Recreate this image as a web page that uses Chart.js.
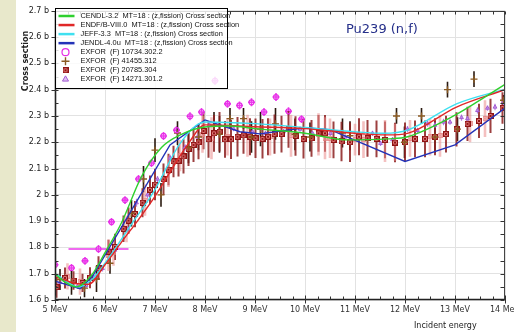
<!DOCTYPE html>
<html>
<head>
<meta charset="utf-8">
<title>Pu239 (n,f) cross section</title>
<style>
    html, body { margin: 0; padding: 0; overflow: hidden; background: #fff; }
    /* pale band on the left edge of the panel */
    .side-band { position: absolute; left: 0; top: 0; width: 16px; height: 332px; background: #e8e8cb; }
    .chart-holder { position: absolute; left: 0; top: 0; width: 540px; height: 332px; }
</style>
<script src="https://cdn.jsdelivr.net/npm/chart.js"></script>
</head>
<body>
<div class="side-band"></div>
<div class="chart-holder"><canvas id="xsChart"></canvas></div>

<script>
// Evaluated libraries: energy knots (MeV) and cross section (b)
const cendlE  = [5.0, 5.2, 5.43, 5.73, 6.0, 6.33, 6.73, 7.13, 7.53, 8.0, 8.5, 9.0, 10.0, 10.85, 11.65, 12.05, 13.0, 13.5, 14.0];
const cendlXs = [1.700, 1.668, 1.650, 1.694, 1.780, 1.894, 2.069, 2.180, 2.230, 2.258, 2.262, 2.252, 2.234, 2.209, 2.213, 2.221, 2.303, 2.360, 2.420];

const endfE  = [5.0, 5.2, 5.4, 5.67, 6.0, 6.33, 6.67, 7.0, 7.33, 7.67, 8.0, 9.0, 10.0, 11.0, 11.65, 12.05, 13.03, 14.0];
const endfXs = [1.688, 1.676, 1.663, 1.660, 1.734, 1.820, 1.906, 1.994, 2.096, 2.196, 2.266, 2.259, 2.252, 2.234, 2.228, 2.234, 2.334, 2.400];

const jeffE  = [5.0, 5.47, 5.75, 6.0, 6.5, 7.0, 7.5, 8.0, 9.0, 10.0, 10.98, 11.58, 12.05, 13.03, 14.0];
const jeffXs = [1.700, 1.650, 1.680, 1.740, 1.880, 2.020, 2.195, 2.277, 2.271, 2.256, 2.240, 2.234, 2.246, 2.346, 2.402];

const jendlE  = [5.0, 5.5, 5.75, 7.3, 8.0, 8.7, 9.1, 10.0, 10.5, 12.0, 13.0, 14.0];
const jendlXs = [1.672, 1.643, 1.690, 2.190, 2.285, 2.240, 2.232, 2.255, 2.248, 2.127, 2.190, 2.330];

// EXFOR 10734.302.2
const exp1E   = [5.0, 5.33, 5.6, 5.87, 6.13, 6.4, 6.67, 6.93, 7.17, 7.43, 7.7, 7.93, 8.2, 8.45, 8.69, 8.93, 9.18, 9.42, 9.67, 9.93];
const exp1Xs  = [1.734, 1.722, 1.749, 1.794, 1.897, 1.980, 2.060, 2.121, 2.224, 2.246, 2.299, 2.315, 2.434, 2.346, 2.340, 2.352, 2.315, 2.372, 2.318, 2.288];
const exp1dE  = [0.07, 0.07, 0.07, 0.60, 0.07, 0.07, 0.07, 0.07, 0.07, 0.07, 0.07, 0.07, 0.07, 0.07, 0.07, 0.07, 0.07, 0.07, 0.07, 0.07];
const exp1dXs = [0.015, 0.015, 0.015, 0.015, 0.015, 0.015, 0.015, 0.015, 0.015, 0.015, 0.015, 0.015, 0.015, 0.015, 0.015, 0.015, 0.015, 0.015, 0.015, 0.015];

// EXFOR 41455.312
const exp2E   = [5.1, 5.33, 5.59, 5.83, 6.1, 6.53, 6.77, 7.0, 7.12, 7.45, 7.67, 7.87, 8.18, 8.29, 8.5, 8.77, 8.93, 9.11, 9.41, 9.8, 10.1, 10.75, 10.9, 11.83, 11.99, 12.33, 12.6, 12.85, 13.05, 13.38, 13.97];
const exp2Xs  = [1.678, 1.665, 1.645, 1.680, 1.740, 1.930, 2.060, 2.170, 2.000, 2.235, 2.180, 2.220, 2.265, 2.230, 2.290, 2.290, 2.220, 2.250, 2.270, 2.230, 2.220, 2.235, 2.225, 2.300, 2.200, 2.300, 2.220, 2.400, 2.250, 2.440, 2.360];
const exp2dXs = [0.040, 0.045, 0.035, 0.050, 0.040, 0.050, 0.050, 0.045, 0.045, 0.045, 0.060, 0.050, 0.050, 0.070, 0.040, 0.040, 0.060, 0.065, 0.060, 0.060, 0.055, 0.055, 0.055, 0.030, 0.060, 0.030, 0.060, 0.030, 0.045, 0.030, 0.020];

// EXFOR 20785.304
const exp3E   = [5.03, 5.2, 5.37, 5.55, 5.7, 5.87, 6.07, 6.2, 6.37, 6.47, 6.6, 6.75, 6.9, 7.0, 7.17, 7.27, 7.37, 7.47, 7.57, 7.67,
                 7.77, 7.87, 7.97, 8.07, 8.18, 8.29, 8.4, 8.52, 8.65, 8.77, 8.9, 9.01, 9.15, 9.26, 9.39, 9.53, 9.67, 9.81, 9.97, 10.13,
                 10.27, 10.4, 10.57, 10.73, 10.9, 11.08, 11.25, 11.43, 11.6, 11.8, 12.0, 12.2, 12.4, 12.6, 12.82, 13.03, 13.25, 13.48, 13.71, 13.95];
const exp3Xs  = [1.649, 1.684, 1.674, 1.665, 1.685, 1.721, 1.784, 1.802, 1.871, 1.902, 1.927, 1.970, 2.019, 2.039, 2.059, 2.096, 2.127, 2.130, 2.146, 2.175,
                 2.190, 2.200, 2.243, 2.211, 2.234, 2.240, 2.211, 2.211, 2.221, 2.226, 2.221, 2.215, 2.213, 2.221, 2.231, 2.231, 2.249, 2.224, 2.213, 2.215,
                 2.234, 2.234, 2.209, 2.203, 2.200, 2.221, 2.215, 2.213, 2.209, 2.199, 2.200, 2.213, 2.213, 2.221, 2.231, 2.249, 2.270, 2.281, 2.300, 2.330];
const exp3dXs = [0.040, 0.040, 0.035, 0.035, 0.040, 0.045, 0.045, 0.050, 0.050, 0.050, 0.050, 0.055, 0.055, 0.060, 0.060, 0.060, 0.060, 0.060, 0.065, 0.065,
                 0.065, 0.065, 0.070, 0.070, 0.070, 0.075, 0.070, 0.075, 0.075, 0.070, 0.070, 0.075, 0.075, 0.070, 0.075, 0.070, 0.070, 0.075, 0.075, 0.070,
                 0.070, 0.070, 0.070, 0.075, 0.075, 0.070, 0.070, 0.070, 0.070, 0.075, 0.075, 0.070, 0.070, 0.070, 0.070, 0.065, 0.065, 0.065, 0.065, 0.060];
// second run of the same entry, pale bars
const exp3bE   = [5.25, 5.5, 6.07, 6.17, 6.43, 6.8, 7.27, 7.5, 7.95, 8.13, 8.45, 8.85, 9.3, 9.72, 10.27, 10.4, 10.5, 11.0, 11.17, 11.6, 11.8, 12.1, 12.5, 12.7, 13.3, 13.6];
const exp3bXs  = [1.690, 1.670, 1.770, 1.780, 1.870, 1.980, 2.090, 2.150, 2.230, 2.215, 2.220, 2.225, 2.220, 2.225, 2.230, 2.215, 2.215, 2.210, 2.210, 2.205, 2.200, 2.215, 2.220, 2.225, 2.270, 2.290];
const exp3bdXs = [0.050, 0.050, 0.060, 0.050, 0.050, 0.060, 0.060, 0.060, 0.070, 0.080, 0.070, 0.080, 0.070, 0.080, 0.080, 0.080, 0.075, 0.060, 0.070, 0.080, 0.070, 0.070, 0.070, 0.080, 0.070, 0.070];

// EXFOR 14271.301.2
const exp4E   = [5.1, 5.45, 5.62, 5.78, 5.95, 6.2, 6.45, 6.63, 6.85, 7.05, 7.3, 7.6, 7.85, 8.09, 8.57, 8.95, 9.21, 9.57, 9.9, 10.15,
                 10.51, 10.8, 11.05, 11.35, 11.51, 11.75, 12.05, 12.25, 12.45, 12.6, 12.77, 12.9, 13.13, 13.25, 13.45, 13.65, 13.8, 13.97];
const exp4Xs  = [1.668, 1.652, 1.656, 1.685, 1.720, 1.790, 1.870, 1.970, 2.000, 2.060, 2.140, 2.180, 2.220, 2.265, 2.252, 2.240, 2.234, 2.240, 2.250, 2.234,
                 2.234, 2.220, 2.228, 2.234, 2.196, 2.210, 2.250, 2.245, 2.271, 2.265, 2.277, 2.277, 2.294, 2.290, 2.321, 2.330, 2.334, 2.353];
const exp4dXs = [0.012, 0.010, 0.010, 0.012, 0.012, 0.012, 0.012, 0.015, 0.012, 0.012, 0.012, 0.012, 0.012, 0.010, 0.010, 0.010, 0.010, 0.010, 0.010, 0.010,
                 0.010, 0.010, 0.010, 0.010, 0.010, 0.010, 0.012, 0.010, 0.012, 0.010, 0.012, 0.010, 0.012, 0.010, 0.012, 0.010, 0.012, 0.012];

// axis range and ticks
const xMin = 5, xMax = 14, xStep = 1, xMinorStep = 0.25;
const yMin = 1.6, yMax = 2.7, yStep = 0.1, yMinorStep = 0.05;

const curve = (es, xs) => es.map((e, i) => ({ x: e, y: xs[i] }));
const points = (es, xs, dxs, des) => es.map((e, i) => ({ x: e, y: xs[i], yErr: dxs[i], xErr: des ? des[i] : 0 }));

// small boxed-cross marker used for the 20785 data
function boxCross(size, stroke, fill) {
    const c = document.createElement('canvas');
    c.width = size; c.height = size;
    const g = c.getContext('2d');
    g.fillStyle = fill;
    g.fillRect(0, 0, size, size);
    g.strokeStyle = stroke;
    g.lineWidth = 1;
    g.strokeRect(0.5, 0.5, size - 1, size - 1);
    g.beginPath();
    g.moveTo(1.5, 1.5); g.lineTo(size - 1.5, size - 1.5);
    g.moveTo(size - 1.5, 1.5); g.lineTo(1.5, size - 1.5);
    g.stroke();
    return c;
}
const squareMark = boxCross(6, '#8e1414', '#e07a7a');
const paleSquareMark = boxCross(5, 'rgba(220,110,110,0.6)', 'rgba(245,180,180,0.5)');

// vertical / horizontal uncertainty bars, drawn under everything else
const errorBars = {
    id: 'errorBars',
    beforeDatasetsDraw(chart) {
        const { ctx, chartArea: a, scales: { x, y } } = chart;
        ctx.save();
        ctx.beginPath();
        ctx.rect(a.left, a.top, a.right - a.left, a.bottom - a.top);
        ctx.clip();
        chart.data.datasets.forEach((ds, i) => {
            if (!ds.errorBar || !chart.isDatasetVisible(i)) return;
            ctx.strokeStyle = ds.errorBar.color;
            ctx.lineWidth = ds.errorBar.width;
            ds.data.forEach(p => {
                const px = x.getPixelForValue(p.x);
                const py = y.getPixelForValue(p.y);
                ctx.beginPath();
                if (p.yErr) {
                    ctx.moveTo(px, y.getPixelForValue(p.y - p.yErr));
                    ctx.lineTo(px, y.getPixelForValue(p.y + p.yErr));
                }
                if (p.xErr) {
                    ctx.moveTo(x.getPixelForValue(p.x - p.xErr), py);
                    ctx.lineTo(x.getPixelForValue(p.x + p.xErr), py);
                }
                ctx.stroke();
            });
        });
        ctx.restore();
    }
};

// box frame with minor ticks on all four sides
const frameTicks = {
    id: 'frameTicks',
    afterDatasetsDraw(chart) {
        const { ctx, chartArea: a, scales: { x, y } } = chart;
        const L = Math.round(a.left) + 0.5, R = Math.round(a.right) - 0.5;
        const T = Math.round(a.top) + 0.5, B = Math.round(a.bottom) - 0.5;
        ctx.save();
        ctx.strokeStyle = '#444';
        ctx.lineWidth = 1;
        ctx.strokeRect(L, T, R - L, B - T);
        ctx.strokeStyle = '#222';
        ctx.lineWidth = 1.6;
        ctx.beginPath();
        ctx.moveTo(L, T); ctx.lineTo(L, B); ctx.lineTo(R, B);
        ctx.stroke();

        ctx.lineWidth = 1;
        ctx.strokeStyle = '#333';
        ctx.beginPath();
        const nx = Math.round((xMax - xMin) / xMinorStep);
        for (let i = 0; i <= nx; i++) {
            const v = xMin + i * xMinorStep;
            const px = Math.round(x.getPixelForValue(v)) + 0.5;
            const major = Math.abs(v - Math.round(v)) < 1e-9;
            ctx.moveTo(px, B + (major ? 4 : 0)); ctx.lineTo(px, B - (major ? 4 : 3));
            ctx.moveTo(px, T); ctx.lineTo(px, T + 3);
        }
        const ny = Math.round((yMax - yMin) / yMinorStep);
        for (let i = 0; i <= ny; i++) {
            const v = yMin + i * yMinorStep;
            const py = Math.round(y.getPixelForValue(v)) + 0.5;
            const major = i % 2 === 0;
            ctx.moveTo(L - (major ? 4 : 0), py); ctx.lineTo(L + 3, py);
            ctx.moveTo(R, py); ctx.lineTo(R - 4, py);
        }
        ctx.stroke();
        ctx.restore();
    }
};

// title, axis names and the boxed legend in the top-left corner
const labelsAndLegend = {
    id: 'labelsAndLegend',
    afterDraw(chart) {
        const { ctx, chartArea: a } = chart;
        ctx.save();

        ctx.fillStyle = '#26308a';
        ctx.font = '13px "DejaVu Sans"';
        ctx.textBaseline = 'alphabetic';
        ctx.fillText('Pu239 (n,f)', 346, 33);

        ctx.fillStyle = '#222';
        ctx.font = '8px "DejaVu Sans"';
        ctx.fillText('Incident energy', 414, 328);

        ctx.save();
        ctx.translate(28, 61);
        ctx.rotate(-Math.PI / 2);
        ctx.font = 'bold 8px "DejaVu Sans"';
        ctx.textAlign = 'center';
        ctx.fillText('Cross section', 0, 0);
        ctx.restore();

        const bx = Math.round(a.left) + 0.5, by = 8.5, bw = 172, bh = 80;
        ctx.fillStyle = 'rgba(255,255,255,0.82)';
        ctx.fillRect(bx, by, bw, bh);
        ctx.strokeStyle = '#000';
        ctx.lineWidth = 1;
        ctx.strokeRect(bx, by, bw, bh);

        ctx.font = '7.4px "Liberation Sans"';
        ctx.textBaseline = 'middle';
        const items = chart.data.datasets.filter(ds => !ds.hideInLegend);
        items.forEach((ds, i) => {
            const cy = 16 + i * 9.05;
            if (ds.showLine) {
                ctx.strokeStyle = ds.borderColor;
                ctx.lineWidth = 2.5;
                ctx.beginPath();
                ctx.moveTo(bx + 3, cy); ctx.lineTo(bx + 19, cy);
                ctx.stroke();
            } else {
                ctx.strokeStyle = ds.borderColor;
                ctx.fillStyle = ds.backgroundColor;
                ctx.lineWidth = ds.borderWidth;
                Chart.helpers.drawPoint(ctx, {
                    pointStyle: ds.pointStyle, radius: ds.legendRadius,
                    borderWidth: ds.borderWidth, rotation: 0
                }, bx + 10, cy);
            }
            ctx.fillStyle = '#111';
            ctx.fillText(ds.label, bx + 25, cy);
        });
        ctx.restore();
    }
};

const lineSet = (label, es, xs, color, smooth) => ({
    label, data: curve(es, xs), showLine: true, borderColor: color, backgroundColor: color,
    borderWidth: 1.4, pointRadius: 0, order: 0,
    cubicInterpolationMode: smooth ? 'monotone' : 'default', tension: 0
});

new Chart(document.getElementById('xsChart'), {
    type: 'scatter',
    data: {
        datasets: [
            lineSet('CENDL-3.2  MT=18 : (z,fission) Cross section', cendlE, cendlXs, '#2fd02f', true),
            lineSet('ENDF/B-VIII.0  MT=18 : (z,fission) Cross section', endfE, endfXs, '#e02828', true),
            lineSet('JEFF-3.3  MT=18 : (z,fission) Cross section', jeffE, jeffXs, '#3fe0f0', true),
            lineSet('JENDL-4.0u  MT=18 : (z,fission) Cross section', jendlE, jendlXs, '#2433b8', false),
            {
                label: 'EXFOR  (F) 10734.302.2', data: points(exp1E, exp1Xs, exp1dXs, exp1dE),
                pointStyle: 'circle', pointRadius: 2.5, legendRadius: 3.5, borderWidth: 1.2,
                borderColor: '#e62ee6', backgroundColor: 'rgba(255,255,255,0)',
                errorBar: { color: '#ec3aec', width: 1.6 }, order: 1
            },
            {
                label: 'EXFOR  (F) 41455.312', data: points(exp2E, exp2Xs, exp2dXs),
                pointStyle: 'cross', pointRadius: 3.5, legendRadius: 4, borderWidth: 1.4,
                borderColor: '#8a5a22', backgroundColor: '#8a5a22',
                errorBar: { color: '#2a1a10', width: 1.6 }, order: 1
            },
            {
                label: 'EXFOR  (F) 20785.304', data: points(exp3E, exp3Xs, exp3dXs),
                pointStyle: squareMark, pointRadius: 3, legendRadius: 3, borderWidth: 1,
                borderColor: '#8e1414', backgroundColor: '#e07a7a',
                errorBar: { color: 'rgba(140,30,30,0.85)', width: 2 }, order: 1
            },
            {
                label: 'EXFOR  (F) 14271.301.2', data: points(exp4E, exp4Xs, exp4dXs),
                pointStyle: 'triangle', pointRadius: 2.2, legendRadius: 3.5, borderWidth: 1,
                borderColor: '#a25ad2', backgroundColor: 'rgba(200,150,235,0.6)',
                errorBar: { color: '#b27ee0', width: 1.2 }, order: 1
            },
            {
                label: 'EXFOR  (F) 20785.304', data: points(exp3bE, exp3bXs, exp3bdXs), hideInLegend: true,
                pointStyle: paleSquareMark, pointRadius: 2.5, borderWidth: 1,
                borderColor: '#eea0a0', backgroundColor: '#f5c0c0',
                errorBar: { color: 'rgba(235,140,140,0.55)', width: 2.6 }, order: 2
            }
        ]
    },
    options: {
        responsive: true,
        maintainAspectRatio: false,
        animation: false,
        layout: { padding: { left: 0, right: 35, top: 7, bottom: 0 } },
        plugins: { legend: { display: false }, tooltip: { enabled: false } },
        scales: {
            x: {
                type: 'linear', min: xMin, max: xMax,
                afterFit(scale) { scale.height = 32; },
                grid: { color: '#e2e2e2', drawTicks: false },
                border: { display: false },
                ticks: {
                    stepSize: xStep, padding: 5, color: '#333',
                    font: { family: 'DejaVu Sans', size: 8 },
                    callback: v => v + ' MeV'
                }
            },
            y: {
                type: 'linear', min: yMin, max: yMax,
                afterFit(scale) { scale.width = 55; },
                grid: { color: '#e2e2e2', drawTicks: false },
                border: { display: false },
                ticks: {
                    stepSize: yStep, padding: 6, color: '#222',
                    font: { family: 'DejaVu Sans', size: 8 },
                    callback: v => parseFloat(v.toFixed(1)) + ' b'
                }
            }
        }
    },
    plugins: [errorBars, frameTicks, labelsAndLegend]
});
</script>
</body>
</html>
